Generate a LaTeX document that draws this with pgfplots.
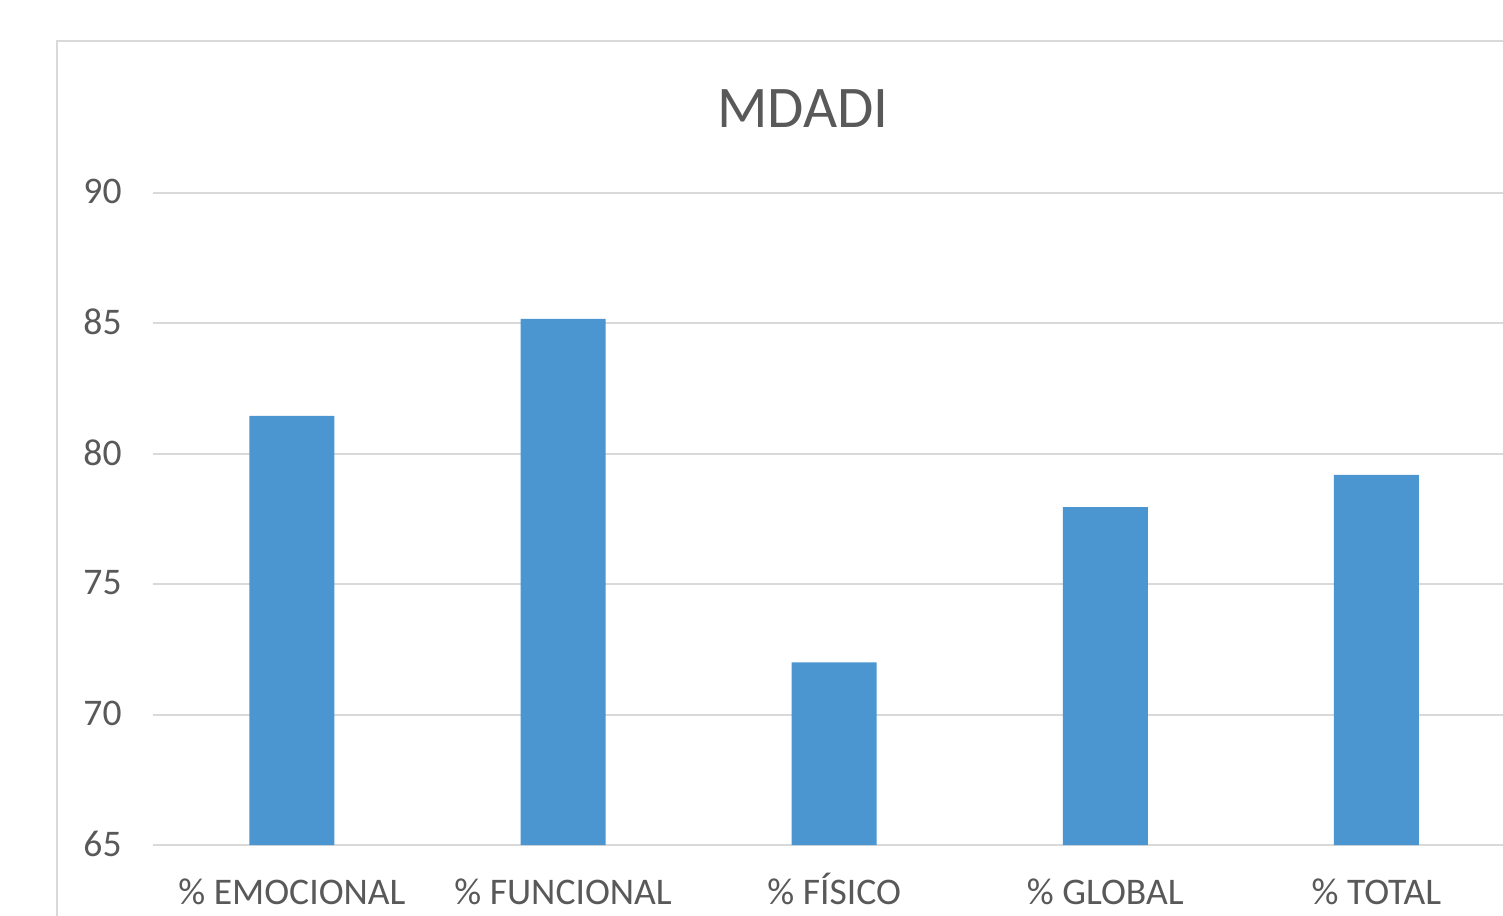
\documentclass[border=0pt]{standalone}
\usepackage{pgfplots}
\pgfplotsset{compat=1.18}
\usepackage{fontspec}
\setmainfont{Carlito}
\definecolor{barblue}{HTML}{4B96D0}
\definecolor{gridgray}{HTML}{D9D9D9}
\definecolor{txtgray}{HTML}{595959}
\begin{document}
\begin{tikzpicture}
\clip (0pt,0pt) rectangle (751.5pt,-457.5pt);
\useasboundingbox (0pt,0pt) rectangle (751.5pt,-457.5pt);
\fill[white] (0pt,0pt) rectangle (751.5pt,-457.5pt);
\draw[gridgray, line width=1.25pt] (28.5pt,-470pt) -- (28.5pt,-20.5pt) -- (770pt,-20.5pt);
\node[anchor=base, text=txtgray, font=\fontsize{29.5}{34}\selectfont] at (401.5pt,-63.5pt) {MDADI};
\begin{axis}[
  at={(76.5pt,-422.5pt)}, anchor=south west,
  scale only axis, width=675pt, height=326pt,
  xmin=-0.5127, xmax=4.467, ymin=65, ymax=90,
  ytick={65,70,75,80,85,90},
  xtick={0,1,2,3,4},
  xticklabels={\% EMOCIONAL,\% FUNCIONAL,\% FÍSICO,\% GLOBAL,\% TOTAL},
  ymajorgrids, major grid style={gridgray, line width=1pt},
  axis line style={draw=none}, tick style={draw=none},
  ybar, bar width=42.5pt,
  /pgf/number format/assume math mode=true,
  ticklabel style={text=txtgray, font=\fontsize{18.8}{22}\selectfont},
  xticklabel style={anchor=base, yshift=-25.5pt},
  yticklabel style={anchor=east, inner sep=0pt, xshift=-15.5pt, yshift=0.75pt},
  clip=false,
]
\addplot[fill=barblue, draw=none] coordinates {(0,81.45) (1,85.17) (2,72.0) (3,77.96) (4,79.19)};
\end{axis}
\end{tikzpicture}
\end{document}
